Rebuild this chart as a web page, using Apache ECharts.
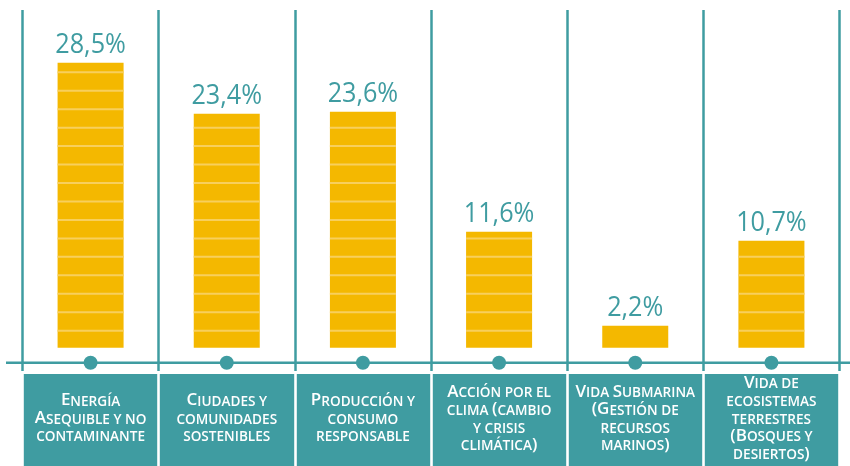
<!DOCTYPE html>
<html>
<head>
<meta charset="utf-8">
<script src="https://cdn.jsdelivr.net/npm/echarts@6/dist/echarts.min.js"></script>
<style>html,body{margin:0;padding:0;background:#fff}#chart{width:850px;height:466px}</style>
</head>
<body>
<div id="chart"></div>
<script>
const categories = [
  'Energía\nAsequible y no\ncontaminante',
  'Ciudades y\ncomunidades\nsostenibles',
  'Producción y\nconsumo\nresponsable',
  'Acción por el\nclima (cambio\ny crisis\nclimática)',
  'Vida Submarina\n(Gestión de\nrecursos\nmarinos)',
  'Vida de\necosistemas\nterrestres\n(Bosques y\ndesiertos)'
];
const values = [28.5, 23.4, 23.6, 11.6, 2.2, 10.7];

const TEAL = '#3f9ca1';
const YELLOW = '#f4b800';
const STRIPE = '#f8cf5c';
const LABEL_FONT = "'Open Sans', sans-serif";
const CAT_FONT = "'Open Sans', sans-serif";

function fmtPct(v) { return v.toFixed(1).replace('.', ',') + '%'; }

function smallCaps(text) {
  return text.split('\n').map(line => {
    let out = '', cur = null, buf = '';
    for (const ch of line) {
      const big = (ch !== ch.toLowerCase()) || ch === '(' || ch === ')';
      const cls = big ? 'b' : 's';
      if (cls !== cur) { if (buf) out += '{' + cur + '|' + buf + '}'; buf = ''; cur = cls; }
      buf += ch.toUpperCase();
    }
    if (buf) out += '{' + cur + '|' + buf + '}';
    return out;
  }).join('\n');
}

const chart = echarts.init(document.getElementById('chart'), null, {renderer: 'canvas'});
const option = {
  animation: false,
  grid: [
    {left: 22.5, right: 10.5, top: 10, bottom: 95},
    {left: 22.5, right: 10.5, top: 374, height: 110}
  ],
  xAxis: [
    {
      type: 'category', gridIndex: 0, data: categories, z: 5,
      axisLine: {show: false}, axisTick: {show: false},
      splitLine: {show: true, lineStyle: {color: TEAL, width: 2.5}},
      axisLabel: {
        interval: 0, margin: 47, verticalAlign: 'middle', align: 'center',
        formatter: smallCaps,
        rich: {
          b: {fontSize: 17, fontFamily: CAT_FONT, fontWeight: 600, color: '#fff', lineHeight: 17.7, verticalAlign: 'bottom'},
          s: {fontSize: 13.6, fontFamily: CAT_FONT, fontWeight: 600, color: '#fff', lineHeight: 17.7, verticalAlign: 'bottom'}
        }
      }
    },
    {
      type: 'category', gridIndex: 1, data: categories, z: 1,
      axisLine: {show: false}, axisTick: {show: false}, axisLabel: {show: false},
      splitArea: {show: true, areaStyle: {color: [TEAL]}},
      splitLine: {show: true, lineStyle: {color: '#fff', width: 2.6}}
    }
  ],
  yAxis: [
    {type: 'value', gridIndex: 0, min: -2.33, max: 33.77, show: false, splitLine: {show: false}},
    {type: 'value', gridIndex: 1, show: false, splitLine: {show: false}}
  ],
  graphic: [
    {type: 'line', z: 1, shape: {x1: 6, y1: 362.7, x2: 850, y2: 362.7}, style: {stroke: TEAL, lineWidth: 2.6}}
  ],
  series: [
    {
      type: 'custom', xAxisIndex: 0, yAxisIndex: 0, z: 3,
      data: values.map((v, i) => [i, v]),
      renderItem: function (params, api) {
        const i = api.value(0), v = api.value(1);
        const top = api.coord([i, v]);
        const base = api.coord([i, 0]);
        const bw = 66;
        const x = base[0] - bw / 2;
        const children = [
          {type: 'rect', shape: {x: x, y: top[1], width: bw, height: base[1] - top[1]}, style: {fill: YELLOW}}
        ];
        for (let y = base[1] - 17; y > top[1] + 5; y -= 18.46) {
          children.push({type: 'rect', shape: {x: x, y: y - 1, width: bw, height: 2}, style: {fill: STRIPE}});
        }
        children.push({type: 'circle', shape: {cx: base[0], cy: base[1] + 15, r: 7}, style: {fill: TEAL}});
        children.push({type: 'text', x: base[0], y: top[1] - 4, scaleX: 0.9,
          style: {text: fmtPct(v), fill: TEAL, fontSize: 28, fontWeight: 400, fontFamily: LABEL_FONT, align: 'center', verticalAlign: 'bottom'}});
        return {type: 'group', children: children};
      }
    }
  ]
};
chart.setOption(option);
</script>
</body>
</html>
